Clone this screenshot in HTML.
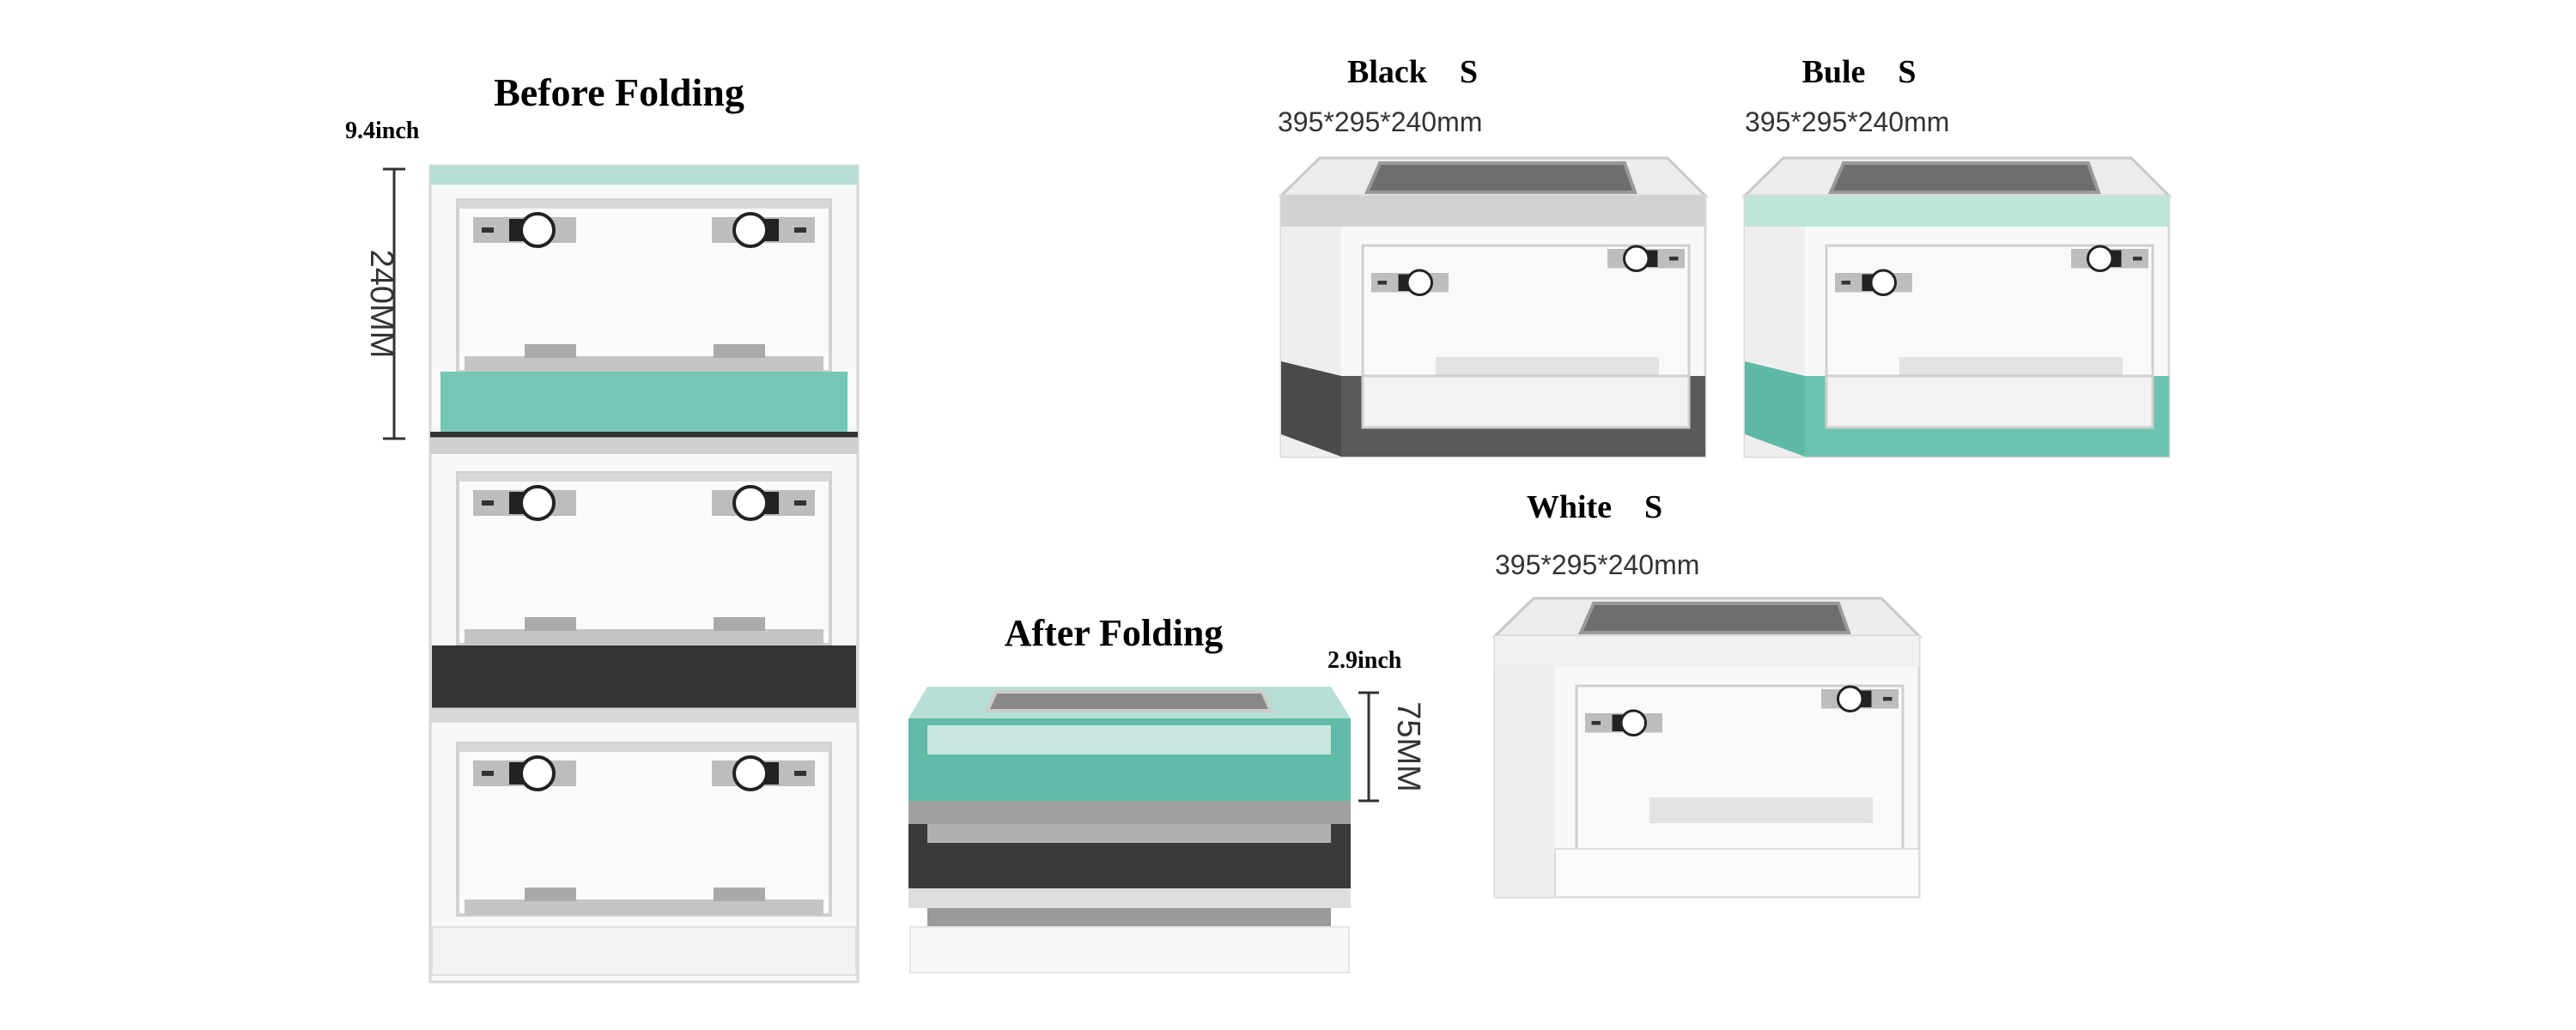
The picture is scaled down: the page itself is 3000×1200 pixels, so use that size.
<!DOCTYPE html>
<html><head><meta charset="utf-8"><style>
html,body{margin:0;padding:0;background:#fff;}
svg{display:block;}
.t{font-family:"Liberation Serif",serif;font-weight:bold;fill:#000;}
.d{font-family:"Liberation Sans",sans-serif;fill:#333;}
</style></head><body>
<svg width="3000" height="1200" viewBox="0 0 3000 1200" xmlns="http://www.w3.org/2000/svg">
<defs>
<g id="knobL">
<rect x="0" y="0" width="120" height="30" fill="#bdbdbd"/>
<rect x="10" y="12" width="14" height="6" fill="#333"/>
<rect x="42" y="2" width="22" height="26" fill="#222"/>
<circle cx="75" cy="15" r="19" fill="#fff" stroke="#222" stroke-width="4"/>
</g>
<g id="front">
<rect x="0" y="0" width="498" height="318" fill="#f7f8f8" stroke="#d6d6d6" stroke-width="3"/>
<rect x="32" y="40" width="434" height="200" fill="#fafafa" stroke="#d0d0d0" stroke-width="4"/>
<rect x="32" y="40" width="434" height="10" fill="#d8d8d8"/>
<use href="#knobL" x="50" y="60"/>
<use href="#knobL" transform="translate(448,60) scale(-1,1)"/>
<rect x="40" y="222" width="418" height="18" fill="#c4c4c4"/>
<rect x="110" y="208" width="60" height="16" fill="#aaa"/>
<rect x="330" y="208" width="60" height="16" fill="#aaa"/>
</g>
<g id="prod">
<polygon points="45,8 450,8 494,52 0,52" fill="#ececec" stroke="#c8c8c8" stroke-width="3"/>
<polygon points="115,14 400,14 412,48 100,48" fill="#6e6e6e" stroke="#999" stroke-width="4"/>
<rect x="0" y="52" width="494" height="304" fill="#f7f8f8" stroke="#d8d8d8" stroke-width="3"/>
<rect x="0" y="88" width="70" height="268" fill="#eeeeee"/>
<rect x="95" y="110" width="380" height="220" fill="#f9f9f9" stroke="#cfcfcf" stroke-width="3"/>
<use href="#knobL" transform="translate(105,142) scale(0.75)"/>
<use href="#knobL" transform="translate(470,114) scale(-0.75,0.75)"/>
<rect x="180" y="240" width="260" height="30" fill="#e2e2e2"/>
</g>
</defs>

<!-- LEFT: Before Folding -->
<text class="t" x="721" y="123" font-size="46" text-anchor="middle">Before Folding</text>
<text class="t" x="402" y="161" font-size="28">9.4inch</text>
<line x1="459" y1="197" x2="459" y2="511" stroke="#333" stroke-width="3"/>
<line x1="446" y1="197" x2="472" y2="197" stroke="#333" stroke-width="3"/>
<line x1="446" y1="511" x2="472" y2="511" stroke="#333" stroke-width="3"/>
<text class="d" transform="translate(432,354) rotate(90)" font-size="38" text-anchor="middle">240MM</text>

<use href="#front" x="501" y="193"/>
<rect x="501" y="193" width="498" height="22" fill="#b7dfd5"/>
<rect x="513" y="433" width="474" height="70" fill="#74c7b3"/>
<rect x="501" y="503" width="498" height="8" fill="#333"/>

<use href="#front" x="501" y="511"/>
<rect x="501" y="511" width="498" height="18" fill="#cfcfcf"/>
<rect x="503" y="752" width="494" height="74" fill="#333"/>

<use href="#front" x="501" y="826"/>
<rect x="501" y="826" width="498" height="16" fill="#d8d8d8"/>
<rect x="503" y="1080" width="494" height="56" fill="#f3f3f3" stroke="#e0e0e0" stroke-width="2"/>

<!-- MIDDLE: After Folding -->
<text class="t" x="1297" y="752" font-size="44" text-anchor="middle">After Folding</text>
<text class="t" x="1546" y="778" font-size="28">2.9inch</text>
<polygon points="1080,800 1550,800 1573,837 1058,837" fill="#b7dfd5"/>
<polygon points="1160,806 1470,806 1480,828 1150,828" fill="#888" stroke="#ccc" stroke-width="4"/>
<rect x="1058" y="837" width="515" height="96" fill="#62bba8"/>
<rect x="1080" y="845" width="470" height="34" fill="#c6e6df"/>
<rect x="1058" y="933" width="515" height="27" fill="#a0a0a0"/>
<rect x="1058" y="960" width="515" height="75" fill="#3a3a3a"/>
<rect x="1080" y="960" width="470" height="22" fill="#b0b0b0"/>
<rect x="1058" y="1035" width="515" height="23" fill="#dedede"/>
<rect x="1080" y="1058" width="470" height="22" fill="#9a9a9a"/>
<rect x="1060" y="1080" width="511" height="53" fill="#f8f8f8" stroke="#e6e6e6" stroke-width="2"/>
<line x1="1594" y1="807" x2="1594" y2="933" stroke="#333" stroke-width="3"/>
<line x1="1582" y1="807" x2="1606" y2="807" stroke="#333" stroke-width="3"/>
<line x1="1582" y1="933" x2="1606" y2="933" stroke="#333" stroke-width="3"/>
<text class="d" transform="translate(1628,870) rotate(90)" font-size="38" text-anchor="middle">75MM</text>

<!-- RIGHT: products -->
<text class="t" x="1645" y="96" font-size="38" text-anchor="middle">Black&#160;&#160;&#160;&#160;S</text>
<text class="d" x="1488" y="153" font-size="32">395*295*240mm</text>
<text class="t" x="2165" y="96" font-size="38" text-anchor="middle">Bule&#160;&#160;&#160;&#160;S</text>
<text class="d" x="2032" y="153" font-size="32">395*295*240mm</text>
<text class="t" x="1857" y="603" font-size="38" text-anchor="middle">White&#160;&#160;&#160;&#160;S</text>
<text class="d" x="1741" y="669" font-size="32">395*295*240mm</text>

<g transform="translate(1492,176)">
<use href="#prod"/>
<rect x="0" y="52" width="494" height="36" fill="#d2d2d2"/>
<polygon points="0,245 70,262 70,356 0,330" fill="#4a4a4a"/>
<rect x="70" y="262" width="424" height="94" fill="#5a5a5a"/>
<rect x="95" y="262" width="380" height="60" fill="#f2f2f2" stroke="#cfcfcf" stroke-width="3"/>
</g>
<g transform="translate(2032,176)">
<use href="#prod"/>
<rect x="0" y="52" width="494" height="36" fill="#bfe5db"/>
<polygon points="0,245 70,262 70,356 0,330" fill="#5fb9a5"/>
<rect x="70" y="262" width="424" height="94" fill="#6cc4b0"/>
<rect x="95" y="262" width="380" height="60" fill="#f2f2f2" stroke="#cfcfcf" stroke-width="3"/>
</g>
<g transform="translate(1741,689)">
<use href="#prod"/>
<rect x="0" y="52" width="494" height="36" fill="#f0f0f0"/>
<rect x="70" y="300" width="424" height="56" fill="#fbfbfb" stroke="#ddd" stroke-width="2"/>
</g>
</svg>
</body></html>
